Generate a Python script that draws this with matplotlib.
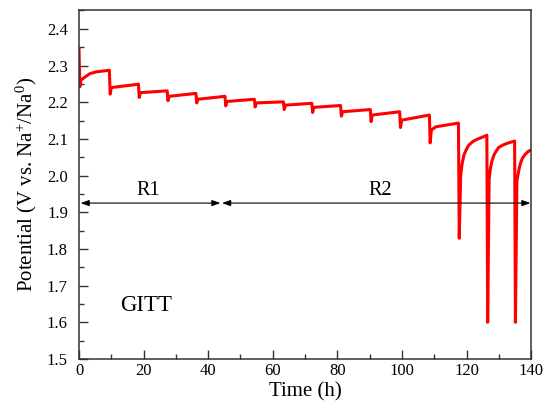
import matplotlib
matplotlib.use("Agg")
import matplotlib.pyplot as plt
from matplotlib.ticker import MultipleLocator

plt.rcParams['font.family'] = ['Liberation Serif', 'DejaVu Serif']
plt.rcParams['mathtext.fontset'] = 'custom'
plt.rcParams['mathtext.rm'] = 'Liberation Serif'

# GITT data
# time of each current pulse (h), potential at the bottom of the pulse,
# shortly after the pulse, and at the end of the rest period (V)
pulse_t = [0.0, 9.4, 18.4, 27.3, 36.2, 45.2, 54.3, 63.3, 72.1, 81.0,
           90.2, 99.3, 108.5, 117.5, 126.3, 134.9]
dip_v = [2.242, 2.222, 2.213, 2.204, 2.198, 2.190, 2.187, 2.180, 2.172, 2.162,
         2.147, 2.131, 2.089, 1.829, 1.600, 1.600]
back_t = [0.6, 10.0, 19.0, 27.9, 36.8, 45.8, 54.9, 63.9, 72.7, 81.6,
          90.8, 99.9, 109.1, 118.2, 127.0, 135.6]
back_v = [2.260, 2.240, 2.226, 2.216, 2.208, 2.202, 2.198, 2.192, 2.186, 2.174,
          2.165, 2.151, 2.124, 2.000, 1.990, 1.985]
rest_v = [2.287, 2.249, 2.231, 2.224, 2.216, 2.208, 2.201, 2.197, 2.191, 2.180,
          2.174, 2.165, 2.143, 2.110, 2.094, 2.070]
start_v = 2.345
end_t = 140.0

# a few extra points on the curved relaxations
relax_extra = {
    0: [(1.9, 2.269), (3.4, 2.278), (5.5, 2.283)],
    12: [(110.5, 2.133)],
    13: [(118.6, 2.030), (119.2, 2.056), (120.0, 2.072), (120.7, 2.083),
         (122.0, 2.093), (123.3, 2.099), (125.0, 2.105)],
    14: [(127.4, 2.020), (127.9, 2.040), (128.5, 2.056), (129.2, 2.067),
         (130.0, 2.077), (131.2, 2.083), (132.6, 2.088)],
    15: [(136.2, 2.015), (136.7, 2.033), (137.3, 2.047), (138.1, 2.057),
         (139.0, 2.065)],
}

# build the curve
t = []
v = []
for i in range(len(pulse_t)):
    prev = start_v if i == 0 else rest_v[i - 1]
    t.append(pulse_t[i]); v.append(prev)
    t.append(pulse_t[i] + 0.25); v.append(dip_v[i])
    t.append(back_t[i]); v.append(back_v[i])
    for (tt, vv) in relax_extra.get(i, []):
        t.append(tt); v.append(vv)
    nxt = pulse_t[i + 1] if i + 1 < len(pulse_t) else end_t
    t.append(nxt); v.append(rest_v[i])

fig = plt.figure(figsize=(5.46, 4.15), dpi=100)
ax = fig.add_axes([0.1447, 0.135, 0.828, 0.8397])

ax.plot(t, v, color='red', lw=2.2, solid_joinstyle='round')

ax.set_xlim(0, 140)
ax.set_ylim(1.5, 2.45)
ax.xaxis.set_major_locator(MultipleLocator(20))
ax.xaxis.set_minor_locator(MultipleLocator(10))
ax.yaxis.set_major_locator(MultipleLocator(0.1))
ax.yaxis.set_minor_locator(MultipleLocator(0.05))
ax.yaxis.set_major_formatter(plt.FormatStrFormatter('%.1f'))
ax.tick_params(which='both', direction='in', top=False, right=False,
               labelsize=12, width=1.0, color='#333333')
ax.tick_params(which='major', length=6.5)
ax.tick_params(which='minor', length=3.6)
ax.tick_params(axis='x', pad=3)
ax.tick_params(axis='y', pad=8)
for s in ax.spines.values():
    s.set_linewidth(1.1)
    s.set_color('#333333')

ax.set_xlabel('Time (h)', fontsize=15, labelpad=2)
ax.set_ylabel(r'Potential (V vs. $\mathregular{Na^{+}/Na^{0}}$)',
              fontsize=15, labelpad=6)

# regions
arrow = dict(arrowstyle='<|-|>,head_length=0.5,head_width=0.18',
             color='black', lw=0.8, shrinkA=0, shrinkB=0)
ax.annotate('', xy=(0.5, 1.925), xytext=(43.8, 1.925), arrowprops=arrow)
ax.annotate('', xy=(44.3, 1.925), xytext=(139.8, 1.925), arrowprops=arrow)
ax.text(21.4, 1.958, 'R1', fontsize=14.5, ha='center', va='center')
ax.text(93.3, 1.958, 'R2', fontsize=14.5, ha='center', va='center')
ax.text(12.7, 1.647, 'GITT', fontsize=16.5, ha='left', va='center')

fig.savefig('out.png', dpi=100)
